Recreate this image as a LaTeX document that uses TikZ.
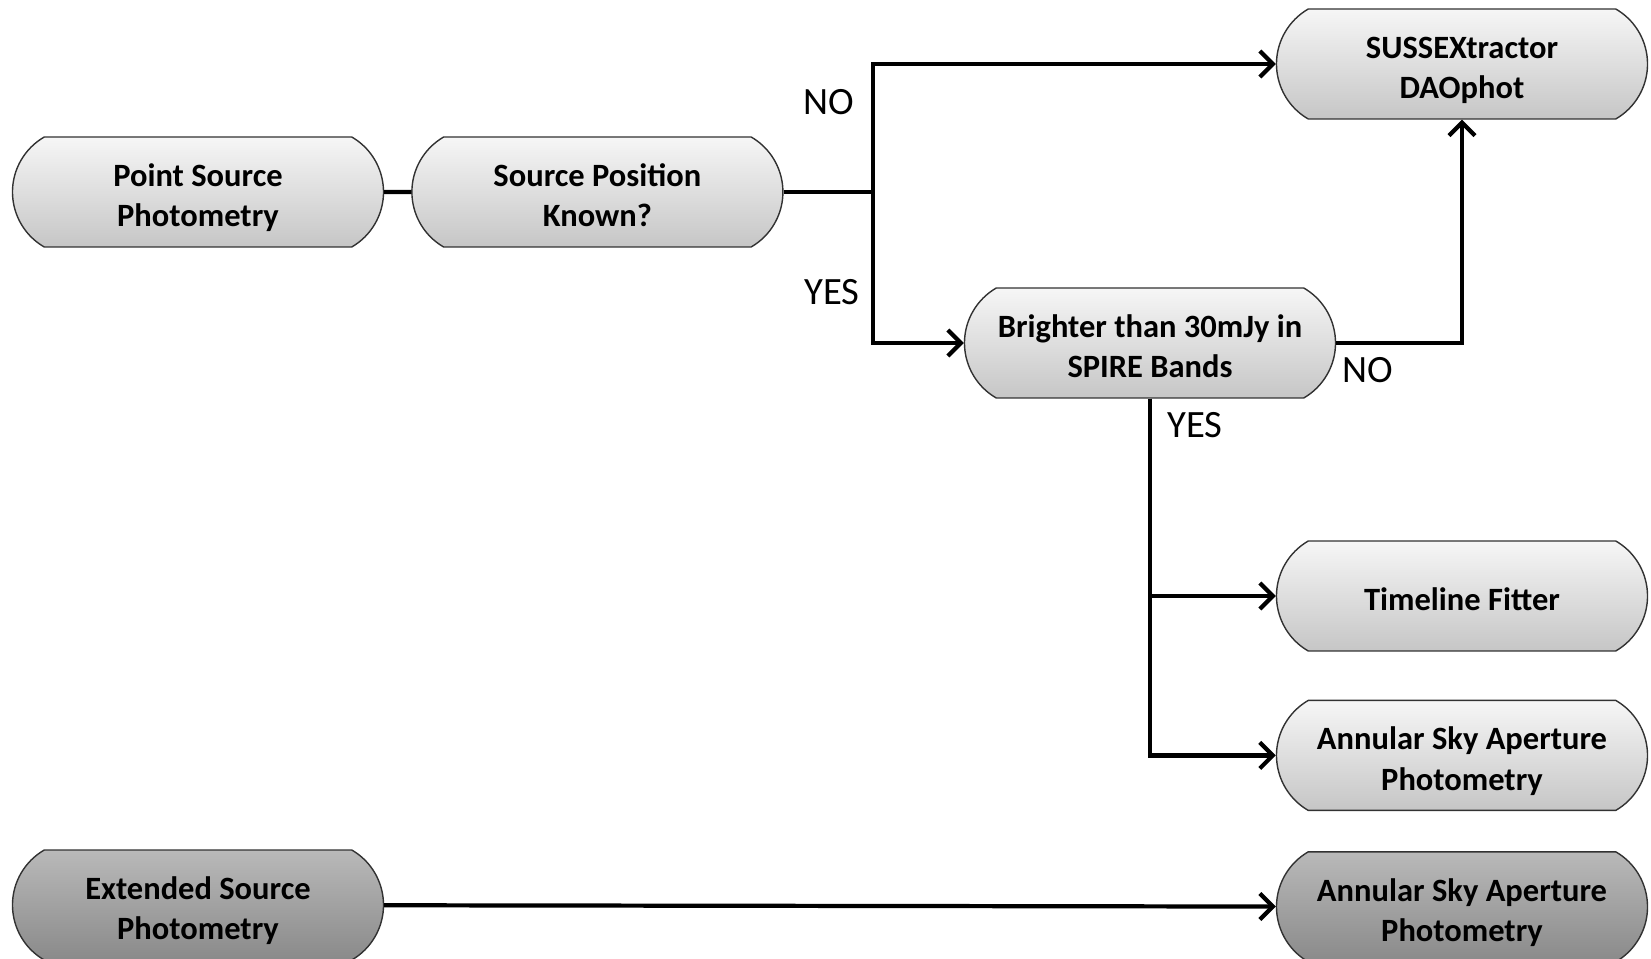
\documentclass[tikz,border=0pt]{standalone}
\usepackage{fontspec}
\setmainfont{Carlito}
\usetikzlibrary{shapes.misc, arrows.meta, positioning}
\definecolor{colTopLight}{RGB}{246,246,246}
\definecolor{colBotLight}{RGB}{198,198,198}
\definecolor{colTopDark}{RGB}{185,185,185}
\definecolor{colBotDark}{RGB}{138,138,138}
\definecolor{colBorder}{RGB}{50,50,50}
\tikzset{
    pill/.style={rounded rectangle, rounded rectangle arc length=120,
        draw=colBorder, line width=0.8pt, minimum width=7.42cm, minimum height=2.2cm,
        align=center, inner sep=0pt,
        top color=colTopLight, bottom color=colBotLight,
        font=\bfseries\fontsize{18.5}{23}\selectfont},
    darkpill/.style={pill, top color=colTopDark, bottom color=colBotDark},
    lbl/.style={font=\fontsize{22}{24}\selectfont, inner sep=0pt},
    link/.style={line width=2.4pt},
    arrow/.style={link, -{Straight Barb[length=2.6mm, width=5.2mm, line width=2.4pt]}}
}
\newcommand{\pilltext}[1]{\raisebox{-0.13cm}[\height][\depth]{\begin{tabular}{@{}c@{}}#1\end{tabular}}}

\begin{document}
\begin{tikzpicture}[node distance=0.54cm and 0.54cm]
    \useasboundingbox (0,0) rectangle (33.02,-19.18);

    \node[pill] (point) at (3.96,-3.84) {\pilltext{Point Source\\Photometry}};
    \node[pill, right=of point] (known) {\pilltext{Source Position\\Known?}};

    \node[pill] (sussex) at (29.24,-1.28) {\pilltext{SUSSEXtractor\\DAOphot}};
    \node[pill] (bright) at (23.0,-6.86) {\pilltext{Brighter than 30mJy in\\SPIRE Bands}};

    \node[pill] (fitter) at (29.24,-11.92) {\pilltext{Timeline Fitter}};
    \node[pill, below=0.96cm of fitter] (annular) {\pilltext{Annular Sky Aperture\\Photometry}};

    \node[darkpill] (extended) at (3.96,-18.1) {\pilltext{Extended Source\\Photometry}};
    \node[darkpill, below=0.8cm of annular] (annulartwo) {\pilltext{Annular Sky Aperture\\Photometry}};

    \coordinate (split) at (17.46,-3.84);

    \node[lbl, anchor=east] (noa) at (17.08,-2.04) {NO};
    \node[lbl, anchor=east] (yesa) at (17.2,-5.84) {YES};
    \node[lbl, anchor=west] (nob) at (26.84,-7.4) {NO};
    \node[lbl, anchor=west] (yesb) at (23.34,-8.5) {YES};

    \draw[link] (point) -- (known);
    \draw[link] (known.east) -- (split);
    \draw[arrow] (split) |- (sussex.west);
    \draw[arrow] (split) |- (bright.west);
    \draw[arrow] (bright.east) -| (sussex.south);
    \draw[arrow] (bright.south) |- (fitter.west);
    \draw[arrow] (bright.south) |- (annular.west);
    \draw[arrow] (extended) -- (annulartwo);

\end{tikzpicture}
\end{document}
